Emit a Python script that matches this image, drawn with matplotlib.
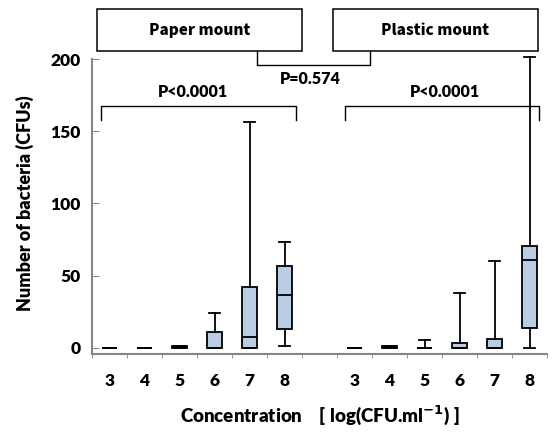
import numpy as np
import matplotlib.pyplot as plt
from matplotlib.patches import Rectangle

# ---------------------------------- DATA ----------------------------------
conc_labels = ["3", "4", "5", "6", "7", "8"]

# paper mount (CFUs)
paper_min = [0, 0, 0, 0, 0, 1]
paper_q1 = [0, 0, 0, 0, 0, 13.4]
paper_med = [0, 0, 0.5, 0, 7.4, 36.5]
paper_q3 = [0, 0, 1, 10.9, 42.4, 57]
paper_max = [0, 0, 1, 24, 156.6, 73.4]

# plastic mount (CFUs)
plastic_min = [0, 0, 0, 0, 0, 0]
plastic_q1 = [0, 0, 0, 0, 0, 13.6]
plastic_med = [0, 0.5, 0, 0, 0, 60.9]
plastic_q3 = [0, 1, 0, 3.2, 6.2, 70.8]
plastic_max = [0, 1, 5.5, 37.8, 60.2, 201.4]

groups = ["Paper mount", "Plastic mount"]
p_within = ["P<0.0001", "P<0.0001"]
p_between = "P=0.574"


def make_stats(mins, q1s, meds, q3s, maxs):
    return [dict(whislo=a, q1=b, med=c, q3=d, whishi=e, fliers=[])
            for a, b, c, d, e in zip(mins, q1s, meds, q3s, maxs)]


stats = make_stats(paper_min, paper_q1, paper_med, paper_q3, paper_max) + \
    make_stats(plastic_min, plastic_q1, plastic_med, plastic_q3, plastic_max)
n = len(conc_labels)
positions = list(range(n)) + list(range(n + 1, 2 * n + 1))

# ---------------------------------- PLOT ----------------------------------
W = "heavy"
plt.rcParams['font.family'] = ['Lato', 'DejaVu Sans']
plt.rcParams['font.weight'] = W

fig = plt.figure(figsize=(5.57, 4.34), dpi=100)
ax = fig.add_axes([92 / 557, 1 - 354 / 434, 455 / 557, (354 - 51.8) / 434])

lw = 1.3
ax.bxp(stats, positions=positions, widths=0.41, patch_artist=True,
       showfliers=False,
       boxprops=dict(facecolor="#B9CDE5", edgecolor="black", linewidth=lw),
       medianprops=dict(color="black", linewidth=lw),
       whiskerprops=dict(color="black", linewidth=lw),
       capprops=dict(color="black", linewidth=lw), capwidths=0.33)

ax.set_xlim(-0.5, 2 * n + 0.5)
ax.set_ylim(-4.2, 205)
ax.set_yticks([0, 50, 100, 150, 200])
ax.set_xticks(positions)
ax.set_xticklabels(conc_labels * 2)
ax.set_xticks(np.arange(-0.5, 2 * n + 1, 1), minor=True)
ax.tick_params(axis="x", which="major", length=0, pad=14, labelsize=12.5)
ax.tick_params(axis="x", which="minor", length=3, direction="out", color="#868686")
ax.tick_params(axis="y", length=5, direction="in", color="#868686", pad=8, labelsize=12.5)

for s in ["top", "right"]:
    ax.spines[s].set_visible(False)
for s in ["left", "bottom"]:
    ax.spines[s].set_color("#868686")
    ax.spines[s].set_linewidth(1.5)
ax.spines["left"].set_bounds(-4.2, 200)

ax.set_ylabel("Number of bacteria (CFUs)", fontsize=13, fontweight=W, labelpad=12)
ax.set_xlabel("Concentration    [ log(CFU.ml$^{\\mathbf{-1}}$) ]", fontsize=13.5,
              fontweight=W, labelpad=10)

# header boxes
for x0, name in zip([-0.357, 6.386], groups):
    ax.add_patch(Rectangle((x0, 205.5), 5.857, 29.1, facecolor="white",
                           edgecolor="black", linewidth=1.1, clip_on=False))
    ax.text(x0 + 5.857 / 2, 220, name, ha="center", va="center",
            fontsize=11, fontweight="black", family=["Noto Sans CJK JP", "DejaVu Sans"])

# connector between groups
ax.plot([4.214, 4.214, 7.443, 7.443], [205.5, 195.9, 195.9, 205.5],
        color="black", linewidth=1.0, clip_on=False)
ax.text(5.729, 186.2, p_between, ha="center", va="center", fontsize=11.5, fontweight=W)

# within-group brackets
for (xa, xb), xt, ptxt in zip([(-0.243, 5.329), (6.729, 12.271)], [2.386, 9.586], p_within):
    ax.plot([xa, xa, xb, xb], [157.8, 167.5, 167.5, 157.8],
            color="black", linewidth=1.0, clip_on=False)
    ax.text(xt, 177.2, ptxt, ha="center", va="center", fontsize=11.5, fontweight=W)

fig.savefig("out.png", dpi=100)
